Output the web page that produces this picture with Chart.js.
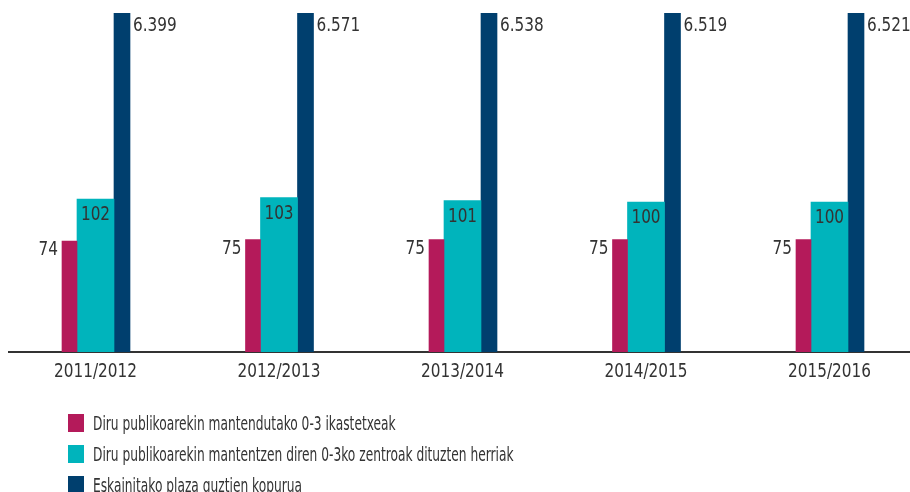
<!DOCTYPE html>
<html>
<head>
<meta charset="utf-8">
<script src="https://cdn.jsdelivr.net/npm/chart.js@4/dist/chart.umd.min.js"></script>
<style>
  html, body { margin: 0; padding: 0; background: #fff; }
  #wrap { position: relative; width: 910px; height: 492px; }
  #legend { position: absolute; left: 68px; top: 414px; font-family: "Liberation Sans Narrow", "DejaVu Sans Condensed", sans-serif; font-size: 20px; color: #333; }
  #legend div { height: 31px; display: flex; align-items: flex-start; white-space: nowrap; }
  #legend span.box { display: inline-block; width: 16px; height: 18px; margin-right: 9px; flex: none; }
  #legend span.txt { line-height: 18px; display: inline-block; transform: scaleX(0.68); transform-origin: left center; }
</style>
</head>
<body>
<div id="wrap">
  <canvas id="chart" width="910" height="492"></canvas>
  <div id="legend"></div>
</div>
<script>
// data
const years = ["2011/2012", "2012/2013", "2013/2014", "2014/2015", "2015/2016"];
const ikastetxeak = [74, 75, 75, 75, 75];
const herriak = [102, 103, 101, 100, 100];
const plazak = [6399, 6571, 6538, 6519, 6521];
const seriesNames = [
  "Diru publikoarekin mantendutako 0-3 ikastetxeak",
  "Diru publikoarekin mantentzen diren 0-3ko zentroak dituzten herriak",
  "Eskainitako plaza guztien kopurua"
];
const colors = ["#b41a5a", "#00b4bc", "#003f6e"];

const FONT = '"Liberation Sans Narrow", "DejaVu Sans Condensed", sans-serif';
const SQUEEZE = 0.85; // narrow the font a bit, the original is a condensed face

// bar layout within a group (pixels per category = ~183.5)
const unit = 183.5;
const widths = [15, 37, 16];
const offsets = [-(widths[1] / 2 + widths[0] / 2) / unit, 0, (widths[1] / 2 + widths[2] / 2) / unit];

function pts(arr, k) {
  return arr.map((v, i) => ({ x: i + offsets[k], y: v }));
}

function fmt(v) {
  return String(v).replace(/\B(?=(\d{3})+(?!\d))/g, ".");
}

function squeezedText(ctx, txt, x, y, align) {
  ctx.save();
  ctx.translate(x, y);
  ctx.scale(SQUEEZE, 1);
  ctx.textAlign = align;
  ctx.fillText(txt, 0, 0);
  ctx.restore();
}

// value labels + category labels
const textLayer = {
  id: 'textLayer',
  afterDatasetsDraw(chart) {
    const ctx = chart.ctx;
    const top = chart.chartArea.top;
    const xs = chart.scales.x;
    ctx.save();
    ctx.font = '20px ' + FONT;
    ctx.fillStyle = '#333';
    ctx.textBaseline = 'alphabetic';
    chart.data.datasets.forEach((ds, k) => {
      const meta = chart.getDatasetMeta(k);
      meta.data.forEach((el, i) => {
        const raw = ds.data[i].y;
        const y = Math.max(el.y, top);
        const w = el.width;
        if (k === 0) {
          squeezedText(ctx, fmt(raw), el.x - w / 2 - 4, y + 14, 'right');
        } else if (k === 1) {
          squeezedText(ctx, fmt(raw), el.x, y + 21, 'center');
        } else {
          squeezedText(ctx, fmt(raw), el.x + w / 2 + 3, y + 18, 'left');
        }
      });
    });
    years.forEach((yr, i) => {
      squeezedText(ctx, yr, xs.getPixelForValue(i), chart.chartArea.bottom + 25, 'center');
    });
    ctx.restore();
  }
};

new Chart(document.getElementById('chart'), {
  type: 'bar',
  data: {
    datasets: [
      { label: seriesNames[0], data: pts(ikastetxeak, 0), backgroundColor: colors[0], barThickness: widths[0] },
      { label: seriesNames[1], data: pts(herriak, 1), backgroundColor: colors[1], barThickness: widths[1] },
      { label: seriesNames[2], data: pts(plazak, 2), backgroundColor: colors[2], barThickness: widths[2] }
    ]
  },
  options: {
    responsive: false,
    animation: false,
    datasets: { bar: { grouped: false, borderWidth: 0 } },
    layout: { padding: { left: 9, right: 0, top: 13, bottom: 100 } },
    plugins: { legend: { display: false }, tooltip: { enabled: false } },
    scales: {
      x: {
        type: 'linear',
        offset: false,
        min: -86.5 / unit,
        max: 4 + 80.5 / unit,
        afterBuildTicks: s => { s.ticks = years.map((_, i) => ({ value: i })); },
        afterFit: s => { s.height = 40; },
        grid: { display: false, drawTicks: false },
        border: { display: true, color: '#333', width: 2 },
        ticks: { display: false }
      },
      y: {
        display: false,
        min: 0,
        max: 226
      }
    }
  },
  plugins: [textLayer]
});

// legend
const leg = document.getElementById('legend');
seriesNames.forEach((name, k) => {
  const row = document.createElement('div');
  row.innerHTML = '<span class="box" style="background:' + colors[k] + '"></span><span class="txt">' + name + '</span>';
  leg.appendChild(row);
});
</script>
</body>
</html>
